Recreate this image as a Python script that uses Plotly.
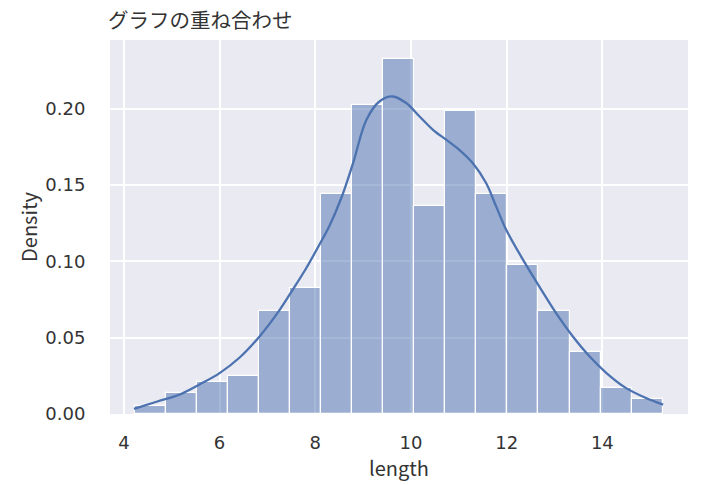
import numpy as np
import plotly.graph_objects as go

# Histogram (density) values
bin_start = 4.23
bin_end = 15.26
density = [0.0054, 0.0137, 0.0211, 0.0251, 0.0676, 0.0825, 0.1444, 0.2024, 0.2328,
           0.1363, 0.1985, 0.1444, 0.0977, 0.0676, 0.0408, 0.0170, 0.0098]

# KDE curve points
kde_x = [4.21, 4.70, 5.17, 5.59, 6.00, 6.42, 6.84, 7.26, 7.53, 7.81, 8.07, 8.30, 8.55,
         8.79, 9.07, 9.34, 9.62, 9.90, 10.18, 10.46, 10.74, 11.01, 11.29, 11.57, 11.78,
         11.99, 12.34, 12.68, 13.03, 13.38, 13.73, 14.08, 14.49, 14.90, 15.27]
kde_y = [0.0033, 0.0082, 0.0128, 0.0195, 0.0268, 0.0370, 0.0510, 0.0684, 0.0815, 0.0955,
         0.1100, 0.1235, 0.1420, 0.1644, 0.1927, 0.2047, 0.2080, 0.2037, 0.1949, 0.1862,
         0.1796, 0.1731, 0.1644, 0.1513, 0.1360, 0.1207, 0.1011, 0.0836, 0.0662, 0.0509,
         0.0378, 0.0270, 0.0171, 0.0106, 0.0061]

x_ticks = [4, 6, 8, 10, 12, 14]
y_ticks = [0.00, 0.05, 0.10, 0.15, 0.20]

title_text = "グラフの重ね合わせ"
x_label = "length"
y_label = "Density"

edges = np.linspace(bin_start, bin_end, len(density) + 1)
centers = (edges[:-1] + edges[1:]) / 2
widths = np.diff(edges)

FONT = "Noto Sans CJK JP, Noto Sans, sans-serif"
TICKFONT = "DejaVu Sans, sans-serif"
TXT = "#333333"

W, H = 705, 485

fig = go.Figure()
fig.add_trace(go.Bar(
    x=centers, y=density, width=widths,
    marker=dict(color="rgba(76,114,176,0.5)", line=dict(color="white", width=1.2)),
    hoverinfo="skip", showlegend=False,
))
fig.add_trace(go.Scatter(
    x=kde_x, y=kde_y, mode="lines",
    line=dict(color="#4c72b0", width=2.3, shape="spline", smoothing=1.0),
    showlegend=False,
))

fig.update_layout(
    width=W, height=H,
    margin=dict(l=110, r=17, t=40, b=71),
    paper_bgcolor="white", plot_bgcolor="#eaeaf2",
    font=dict(family=FONT, color=TXT, size=17),
    bargap=0,
    title=dict(text=title_text, x=108 / W, xanchor="left", y=1 - 21 / H, yanchor="middle",
               font=dict(size=20.5, family=FONT, color=TXT)),
)
fig.update_xaxes(
    range=[3.71, 15.79], tickvals=x_ticks, ticktext=[str(v) for v in x_ticks],
    showgrid=True, gridcolor="white", gridwidth=1.5, zeroline=False, showline=False,
    ticks="outside", ticklen=12, tickcolor="rgba(0,0,0,0)", automargin=False,
    title=dict(text=x_label, font=dict(size=20, family=FONT), standoff=8),
    tickfont=dict(size=18, family=TICKFONT),
)
fig.update_yaxes(
    range=[0, 0.245], tickvals=y_ticks, ticktext=[f"{v:.2f}" for v in y_ticks],
    showgrid=True, gridcolor="white", gridwidth=1.5, zeroline=False, showline=False,
    ticks="outside", ticklen=20, tickcolor="rgba(0,0,0,0)", automargin=False,
    title=dict(text=y_label, font=dict(size=20, family=FONT), standoff=2),
    tickfont=dict(size=18, family=TICKFONT),
)

# remove the page's default body margin so the figure fills the window
fig.write_html("out.html", config={"displayModeBar": False},
               post_script="document.body.style.margin='0';")
